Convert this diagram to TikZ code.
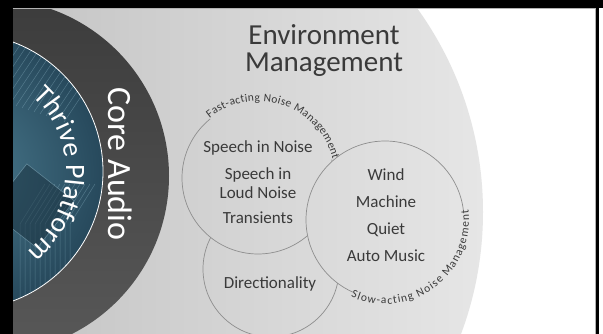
\documentclass[tikz,border=0pt]{standalone}
\usepackage{fontspec}
\setmainfont{Carlito}
\usetikzlibrary{decorations.text}
\definecolor{txt}{HTML}{3A3A3A}
\definecolor{ringc}{HTML}{8E8E8E}
\definecolor{bgL}{HTML}{B4B4B4}
\definecolor{bgR}{HTML}{E6E6E6}
\definecolor{ringTop}{HTML}{3C3C3C}
\definecolor{ringBot}{HTML}{585858}
\definecolor{blueIn}{HTML}{4A7A8E}
\definecolor{blueOut}{HTML}{27495C}
\definecolor{trace}{HTML}{9CC4D4}
\newcommand\bgshade{\shade[left color=bgL,right color=bgR] (135,122) circle[radius=348];}
\tikzset{
  ringline/.style={draw=ringc, line width=0.7pt},
  inner/.style={font=\fontsize{17}{20}\selectfont, text=txt, anchor=base, inner sep=0pt},
  arctext/.style={decorate, decoration={text along path, text color=txt,
      text={|\fontsize{11.5}{13}\selectfont|#1}, text align={fit to path}}},
  tracel/.style={draw=trace, line width=0.5pt, opacity=0.35},
}
\begin{document}
\begin{tikzpicture}[x=1pt,y=1pt]
\useasboundingbox (0,0) rectangle (603,334);
\fill[white] (0,0) rectangle (603,334);
\coordinate (c1) at (258,156);
\coordinate (c2) at (385,114);
\coordinate (c3) at (271,65);
\coordinate (cb) at (-35,162.5);
\begin{scope}
  \clip (12.7,0) rectangle (596,326);
  \bgshade
  % circle 3
  \begin{scope}\clip (c3) circle[radius=68]; \bgshade \end{scope}
  \draw[ringline] (c3) circle[radius=68];
  % circle 1
  \begin{scope}\clip (c1) circle[radius=76]; \bgshade \end{scope}
  \draw[ringline] ([shift={(129:76)}]c1) arc[start angle=129, end angle=374, radius=76];
  \path[arctext={Fast-acting Noise Management}] ([shift={(129:77)}]c1) arc[start angle=129, end angle=14, radius=77];
  % circle 2
  \begin{scope}\clip (c2) circle[radius=79]; \bgshade \end{scope}
  \draw[ringline] ([shift={(7:79)}]c2) arc[start angle=7, end angle=246, radius=79];
  \path[arctext={Slow-acting Noise Management}] ([shift={(246:84)}]c2) arc[start angle=246, end angle=367, radius=84];
  % core ring
  \shade[top color=ringTop, bottom color=ringBot] (-8,158) circle[radius=177];
  % platform
  \begin{scope}
    \clip (cb) circle[radius=138];
    \shade[inner color=blueIn, outer color=blueOut] (cb) circle[radius=138];
    \foreach \k in {0,...,14} {
      \draw[tracel] (20+6*\k,334) -- (20+6*\k,300-2*\k) -- (-20+6*\k,240-2*\k);
    }
    \foreach \k in {0,...,10} {
      \draw[tracel] (95-5*\k,150) -- (70-5*\k,110) -- (70-5*\k,20);
    }
    \fill[blueOut!70!black, opacity=0.55, rotate around={-38:(32,128)}] (2,98) rectangle (62,158);
    \draw[trace, opacity=0.45, line width=0.6pt, rotate around={-38:(32,128)}] (2,98) rectangle (62,158);
  \end{scope}
  \draw[white, line width=0.8pt] (cb) circle[radius=138];
  \path[decorate, decoration={text along path, text color=white,
      text={|\fontsize{28}{30}\selectfont|Thrive Platform}, text align=center}]
      ([shift={(60:101)}]cb) arc[start angle=60, end angle=-64, radius=101];
\end{scope}
\node[font=\fontsize{34}{40}\selectfont, text=white, rotate=-90, anchor=base, inner sep=0pt] (core) at (108,170) {Core Audio};
\node[font=\fontsize{29}{30}\selectfont, text=txt, anchor=base, inner sep=0pt] (env1) at (324,289) {Environment};
\node[font=\fontsize{29}{30}\selectfont, text=txt, anchor=base, inner sep=0pt] (env2) at (324,262.3) {Management};
\node[inner] (t11) at (258,181) {Speech in Noise};
\node[inner] (t12) at (258,154) {Speech in};
\node[inner] (t13) at (258,135.7) {Loud Noise};
\node[inner] (t14) at (258,110.7) {Transients};
\node[inner] (t21) at (386,153.3) {Wind};
\node[inner] (t22) at (386,126.3) {Machine};
\node[inner] (t23) at (386,99.7) {Quiet};
\node[inner] (t24) at (386,72.3) {Auto Music};
\node[inner] (t31) at (270,45.7) {Directionality};
% frame
\fill[black] (0,326) rectangle (603,334);
\fill[black] (0,0) rectangle (12.7,334);
\fill[black] (596,0) rectangle (599,326);
\draw[gray!60, line width=0.6pt] (12.7,325.7) -- (595.7,325.7) -- (595.7,0);
\end{tikzpicture}
\end{document}
